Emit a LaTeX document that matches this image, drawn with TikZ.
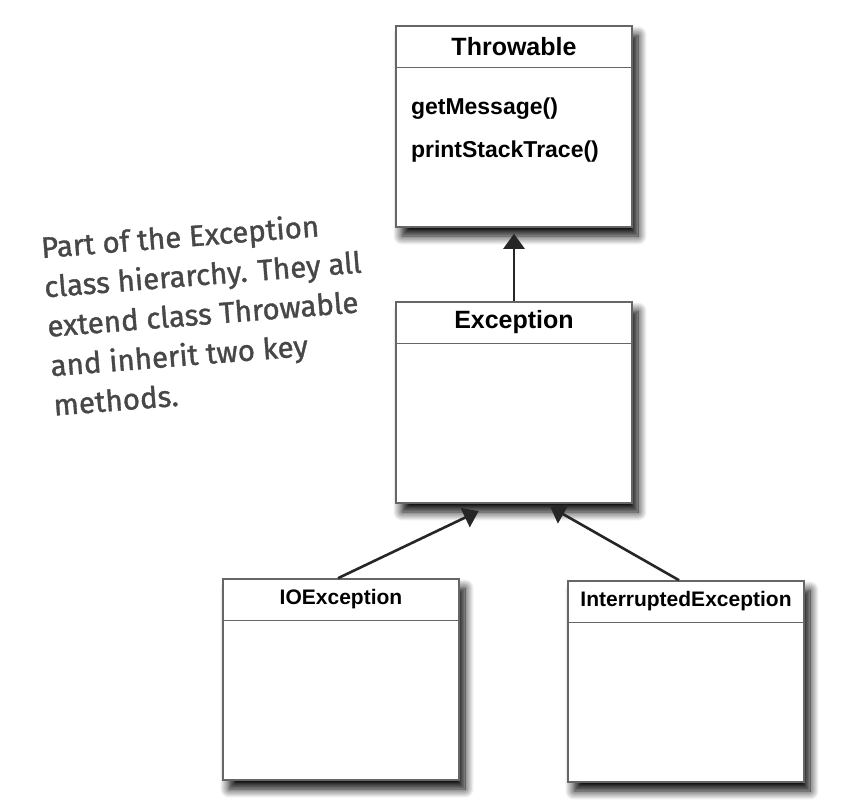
\documentclass[tikz,border=0pt]{standalone}
\usepackage{fontspec}
\setmainfont{Liberation Sans}
\newfontfamily\notefont[FakeBold=1.2]{Fira Sans}
\usetikzlibrary{arrows.meta,positioning,shadows.blur}

\begin{document}
\begin{tikzpicture}[x=1pt, y=-1pt, >={Triangle[length=15pt, width=21pt]},
	cls/.style={draw=black!60, line width=1.6pt, fill=white, minimum width=236pt, minimum height=201pt, inner sep=0pt,
		blur shadow={shadow xshift=6pt, shadow yshift=-9pt, shadow blur radius=9pt, shadow blur steps=12, shadow opacity=100}},
	ttl/.style={minimum width=236pt, minimum height=42pt, inner sep=0pt, font=\bfseries\fontsize{25}{30}\selectfont},
	subttl/.style={ttl, font=\bfseries\fontsize{21}{25}\selectfont},
	meth/.style={anchor=north west, inner sep=0pt, align=left, font=\bfseries\fontsize{23}{43}\selectfont},
	sep/.style={draw=black!60, line width=1.6pt},
	inh/.style={->, line width=2.6pt, draw=black!85},
	note/.style={font=\notefont\fontsize{29.5}{39.5}\selectfont, text=black!72, align=left, inner sep=0pt}]
	\useasboundingbox (0,0) rectangle (862,805);
	% class boxes
	\node[cls] (thr) at (514,126.5) {};
	\node[ttl, below=0pt of thr.north] (thrt) {Throwable};
	\draw[sep] (thrt.south west) -- (thrt.south east);
	\node[meth, below right=30pt and 15pt of thrt.south west] (thrm) {getMessage()\\printStackTrace()};
	\node[cls] (exc) at (514,402.5) {};
	\node[ttl, below=0pt of exc.north] (exct) {Exception};
	\draw[sep] (exct.south west) -- (exct.south east);
	\node[cls] (ioe) at (341,679.5) {};
	\node[subttl, below=0pt of ioe.north] (ioet) {IOException};
	\draw[sep] (ioet.south west) -- (ioet.south east);
	\node[cls] (int) at (686,681.5) {};
	\node[subttl, below=0pt of int.north] (intt) {InterruptedException};
	\draw[sep] (intt.south west) -- (intt.south east);
	% inheritance arrows
	\draw[inh, shorten >=6pt] (exc) -- (thr);
	\draw[inh, shorten >=17pt] ([xshift=-3pt]ioe.north) -- ([xshift=-20pt]exc.south);
	\draw[inh, shorten >=6pt] ([xshift=-7pt]int.north) -- ([xshift=31pt]exc.south);
	% handwritten remark
	\node[note, anchor=north west, rotate=4.5] (rem) at (40,235) {Part of the Exception\\class hierarchy. They all\\extend class Throwable\\and inherit two key\\methods.};
\end{tikzpicture}
\end{document}
